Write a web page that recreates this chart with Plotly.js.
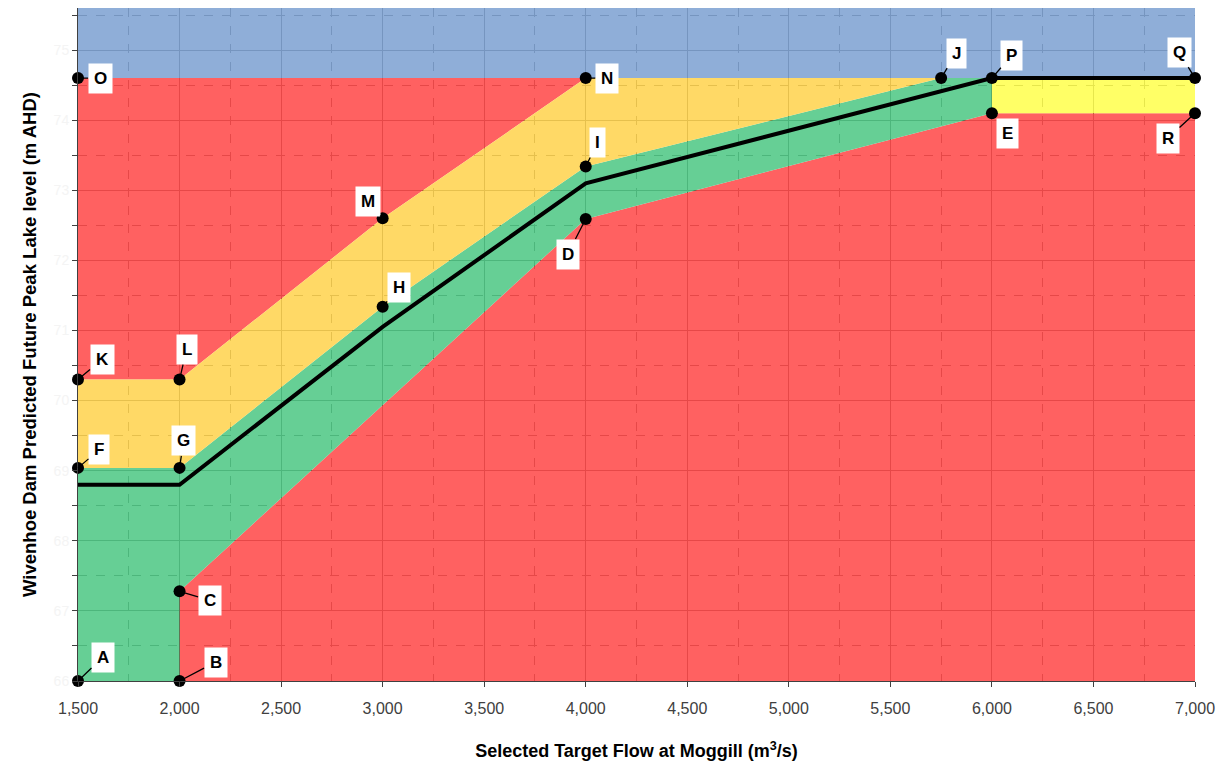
<!DOCTYPE html>
<html>
<head>
<meta charset="utf-8">
<script src="https://cdn.plot.ly/plotly-3.0.1.min.js"></script>
<style>
  html, body { margin: 0; padding: 0; background: #ffffff; }
  #chart { width: 1221px; height: 767px; }
</style>
</head>
<body>
<div id="chart"></div>
<script>
// ---- Data ----
// Labelled points (Selected target flow m3/s, lake level m AHD)
const pointNames = ['A','B','C','D','E','F','G','H','I','J','K','L','M','N','O','P','Q','R'];
const pointFlow  = [1500, 2000, 2000, 4000, 6000, 1500, 2000, 3000, 4000, 5750, 1500, 2000, 3000, 4000, 1500, 6000, 7000, 7000];
const pointLevel = [66.0, 66.0, 67.28, 72.59, 74.1, 69.04, 69.04, 71.34, 73.34, 74.6, 70.3, 70.3, 72.6, 74.6, 74.6, 74.6, 74.6, 74.1];

// Central strategy line
const lineFlow  = [1500, 2000, 3000, 4000, 6000, 7000];
const lineLevel = [68.8, 68.8, 71.05, 73.1, 74.6, 74.6];

// Axis extents
const flowRange  = [1500, 7000];
const levelRange = [66, 75.6];
const xTickVals  = [1500, 2000, 2500, 3000, 3500, 4000, 4500, 5000, 5500, 6000, 6500, 7000];
const xTickText  = ['1,500','2,000','2,500','3,000','3,500','4,000','4,500','5,000','5,500','6,000','6,500','7,000'];
const yTickVals  = [66, 67, 68, 69, 70, 71, 72, 73, 74, 75];

// Region outlines, as sequences of labelled points
const greenRegion  = ['A','B','C','D','E','P','J','I','H','G','F'];
const orangeRegion = ['F','G','H','I','J','N','M','L','K'];
const yellowRegion = ['P','Q','R','E'];
const redUpper     = ['O','N','M','L','K'];

// ---- Build ----
const P = {};
pointNames.forEach((n, i) => { P[n] = [pointFlow[i], pointLevel[i]]; });
function poly(keys, extra) {
  const xs = [], ys = [];
  keys.forEach(k => { xs.push(P[k][0]); ys.push(P[k][1]); });
  (extra || []).forEach(p => { xs.push(p[0]); ys.push(p[1]); });
  xs.push(xs[0]); ys.push(ys[0]);
  return {x: xs, y: ys};
}
function region(pl, color) {
  return {x: pl.x, y: pl.y, type: 'scatter', mode: 'lines', fill: 'toself',
          fillcolor: color, line: {width: 0, color: color}, hoverinfo: 'skip', showlegend: false};
}
const blue = poly(['Q','O'], [[flowRange[0], levelRange[1]], [flowRange[1], levelRange[1]]]);
const redLow = (function(){
  const xs = [P.B[0], flowRange[1], P.R[0], P.E[0], P.D[0], P.C[0], P.B[0]];
  const ys = [P.B[1], levelRange[0], P.R[1], P.E[1], P.D[1], P.C[1], P.B[1]];
  return {x: xs, y: ys};
})();

const traces = [
  region(blue, 'rgba(131,165,212,0.9)'),
  region(poly(redUpper), 'rgba(255,80,80,0.9)'),
  region(redLow, 'rgba(255,80,80,0.9)'),
  region(poly(greenRegion), 'rgba(85,202,138,0.9)'),
  region(poly(orangeRegion), 'rgba(255,213,85,0.9)'),
  region(poly(yellowRegion), 'rgba(255,255,85,0.9)'),
  {x: lineFlow, y: lineLevel, type: 'scatter', mode: 'lines',
   line: {color: '#000000', width: 4}, hoverinfo: 'skip', showlegend: false},
  {x: pointFlow, y: pointLevel, type: 'scatter', mode: 'markers', cliponaxis: false,
   marker: {color: '#000000', size: 12}, hoverinfo: 'skip', showlegend: false}
];

// Label offsets (pixels) for each point label
const labelDX = {A:25,B:36,C:30,D:-18,E:16,F:21,G:4,H:16,I:12,J:15,K:24,L:7,M:-15,N:21,O:22,P:20,Q:-16,R:-27};
const labelDY = {A:-24,B:-19,C:9,D:35,E:20,F:-18,G:-27,H:-19,I:-24,J:-25,K:-20,L:-30,M:-17,N:0,O:0,P:-23,Q:-26,R:25};

const annotations = pointNames.map((n, i) => ({
  x: pointFlow[i], y: pointLevel[i], xref: 'x', yref: 'y',
  text: '<b>' + n + '</b>', showarrow: true, arrowhead: 0, arrowwidth: 1.3, arrowcolor: '#000',
  ax: labelDX[n], ay: labelDY[n], standoff: 0,
  bgcolor: '#ffffff', borderpad: 5,
  font: {family: 'Liberation Sans, Arial, sans-serif', size: 17, color: '#000'}
}));

const layout = {
  width: 1221, height: 767,
  margin: {l: 78, r: 26, t: 8, b: 86},
  paper_bgcolor: '#ffffff', plot_bgcolor: '#ffffff',
  showlegend: false,
  xaxis: {
    range: flowRange, tickvals: xTickVals, ticktext: xTickText,
    ticks: 'outside', ticklen: 5, tickcolor: '#404040', ticklabelstandoff: 8,
    showline: true, linecolor: '#404040', linewidth: 1,
    showgrid: true, gridcolor: '#000000', gridwidth: 1,
    minor: {dtick: 250, showgrid: true, gridcolor: '#000000', griddash: 'dash', gridwidth: 1},
    zeroline: false,
    tickfont: {family: 'Liberation Sans Narrow, Arial Narrow, Liberation Sans, sans-serif', size: 16, color: '#404040'},
    title: {text: '<b>Selected Target Flow at Moggill (m<sup>3</sup>/s)</b>', standoff: 28,
            font: {family: 'Liberation Sans Narrow, Arial Narrow, Liberation Sans, sans-serif', size: 18, color: '#000'}}
  },
  yaxis: {
    range: levelRange, tickvals: yTickVals,
    ticks: 'outside', ticklen: 5, tickcolor: '#404040',
    showline: true, linecolor: '#404040', linewidth: 1,
    showgrid: true, gridcolor: '#000000', gridwidth: 1,
    minor: {dtick: 0.5, ticks: 'outside', ticklen: 5, tickcolor: '#404040',
            showgrid: true, gridcolor: '#000000', griddash: 'dash', gridwidth: 1},
    zeroline: false,
    tickfont: {family: 'Liberation Sans, Arial, sans-serif', size: 14, color: '#f4f4f4'},
    title: {text: '<b>Wivenhoe Dam Predicted Future Peak Lake level (m AHD)</b>', standoff: 12,
            font: {family: 'Liberation Sans, Arial, sans-serif', size: 18.5, color: '#000'}}
  },
  annotations: annotations
};

Plotly.newPlot('chart', traces, layout, {staticPlot: true, displayModeBar: false});
</script>
</body>
</html>
